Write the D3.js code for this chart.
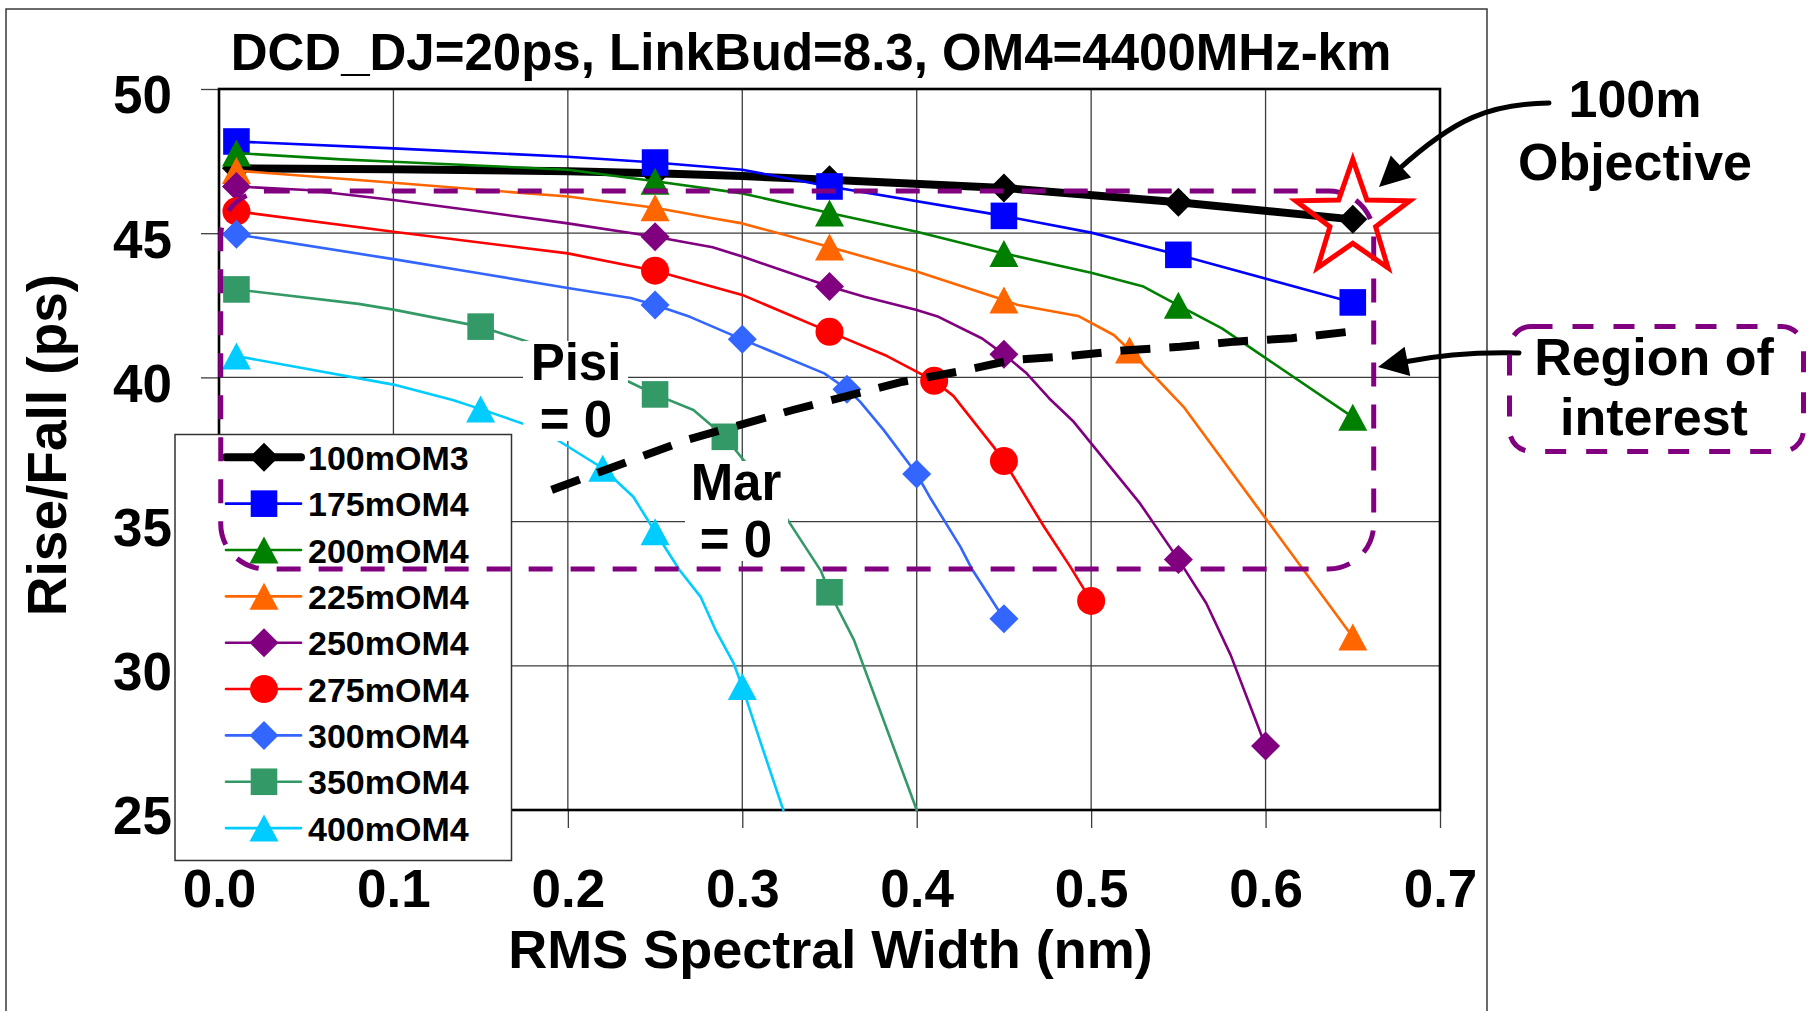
<!DOCTYPE html>
<html>
<head>
<meta charset="utf-8">
<script src="https://cdn.jsdelivr.net/npm/d3@7"></script>
<style>
  html, body { margin: 0; padding: 0; background: #fff; }
  svg { display: block; }
  text { font-family: "Liberation Sans", Arial, Helvetica, sans-serif; font-weight: bold; fill: #000; }
</style>
</head>
<body>
<svg id="chart" width="1812" height="1011"></svg>
<script>
// ---------- text ----------
const titleText = "DCD_DJ=20ps, LinkBud=8.3, OM4=4400MHz-km";
const xTitle = "RMS Spectral Width (nm)";
const yTitle = "Rise/Fall (ps)";

// ---------- axes ----------
const xTicks = [0, 0.1, 0.2, 0.3, 0.4, 0.5, 0.6, 0.7];
const xTickLabels = ["0.0", "0.1", "0.2", "0.3", "0.4", "0.5", "0.6", "0.7"];
const yTicks = [25, 30, 35, 40, 45, 50];
const yTickLabels = ["25", "30", "35", "40", "45", "50"];

// ---------- series (rise/fall time vs RMS spectral width) ----------
const seriesNames = ["100mOM3", "175mOM4", "200mOM4", "225mOM4", "250mOM4",
                     "275mOM4", "300mOM4", "350mOM4", "400mOM4"];

const s100X = [0.01, 0.1, 0.2, 0.25, 0.3, 0.35, 0.45, 0.55, 0.65];
const s100Y = [47.25, 47.22, 47.15, 47.08, 46.98, 46.85, 46.57, 46.07, 45.48];
const s100Marks = [0.01, 0.25, 0.35, 0.45, 0.55, 0.65];

const s175X = [0.01, 0.1, 0.2, 0.25, 0.3, 0.35, 0.45, 0.5, 0.55, 0.65];
const s175Y = [48.18, 47.94, 47.65, 47.45, 47.2, 46.62, 45.6, 45.02, 44.25, 42.6];
const s175Marks = [0.01, 0.25, 0.35, 0.45, 0.55, 0.65];

const s200X = [0.01, 0.07, 0.1, 0.2, 0.25, 0.3, 0.35, 0.4, 0.45, 0.5, 0.53, 0.55, 0.575, 0.65];
const s200Y = [47.78, 47.56, 47.48, 47.2, 46.8, 46.38, 45.7, 45.05, 44.3, 43.63, 43.15, 42.5, 41.7, 38.62];
const s200Marks = [0.01, 0.25, 0.35, 0.45, 0.55, 0.65];

const s225X = [0.01, 0.1, 0.2, 0.25, 0.283, 0.3, 0.35, 0.4, 0.45, 0.458, 0.4925, 0.513, 0.522, 0.553, 0.65];
const s225Y = [47.17, 46.75, 46.27, 45.88, 45.52, 45.34, 44.52, 43.67, 42.68, 42.51, 42.13, 41.47, 40.95, 38.98, 31.0];
const s225Marks = [0.01, 0.25, 0.35, 0.45, 0.522, 0.65];

const s250X = [0.01, 0.05, 0.1, 0.15, 0.2, 0.25, 0.283, 0.3, 0.35, 0.37, 0.4, 0.4125, 0.4375, 0.45,
               0.463, 0.476, 0.49, 0.528, 0.55, 0.566, 0.58, 0.6];
const s250Y = [46.62, 46.5, 46.15, 45.75, 45.34, 44.88, 44.51, 44.19, 43.15, 42.8, 42.34, 42.1, 41.35, 40.8,
               40.14, 39.27, 38.46, 35.63, 33.69, 32.17, 30.37, 27.22];
const s250Marks = [0.01, 0.25, 0.35, 0.45, 0.55, 0.6];

const s275X = [0.01, 0.1, 0.2, 0.25, 0.3, 0.35, 0.383, 0.41, 0.421, 0.444, 0.45, 0.473, 0.488, 0.5];
const s275Y = [45.76, 45.05, 44.3, 43.7, 42.86, 41.58, 40.74, 39.88, 39.36, 37.6, 37.1, 34.82, 33.44, 32.25];
const s275Marks = [0.01, 0.25, 0.35, 0.41, 0.45, 0.5];

const s300X = [0.01, 0.1, 0.15, 0.2, 0.236, 0.25, 0.27, 0.3, 0.347, 0.36, 0.3675, 0.381, 0.4,
               0.408, 0.425, 0.432, 0.45];
const s300Y = [44.96, 44.1, 43.6, 43.1, 42.75, 42.51, 42.1, 41.32, 40.14, 39.59, 39.16, 38.18, 36.65,
               35.8, 34.13, 33.32, 31.63];
const s300Marks = [0.01, 0.25, 0.3, 0.36, 0.4, 0.45];

const s350X = [0.01, 0.08, 0.1, 0.15, 0.18, 0.235, 0.25, 0.272, 0.29, 0.3025, 0.326, 0.345, 0.35, 0.364, 0.4];
const s350Y = [43.05, 42.55, 42.35, 41.76, 41.18, 39.85, 39.41, 38.87, 37.94, 37.0, 35.06, 33.3, 32.55, 30.9, 25.0];
const s350Marks = [0.01, 0.15, 0.25, 0.29, 0.35];

const s400X = [0.01, 0.1, 0.134, 0.15, 0.175, 0.194, 0.22, 0.2375, 0.25, 0.264, 0.276, 0.285, 0.295, 0.3, 0.31, 0.3235];
const s400Y = [40.74, 39.75, 39.22, 38.9, 38.38, 37.83, 36.85, 35.86, 34.65, 33.32, 32.4, 31.2, 30.09, 29.28, 27.43, 25.0];
const s400Marks = [0.01, 0.15, 0.22, 0.25, 0.3];

// Pisi = 0 / Mar = 0 boundary
const boundaryX = [0.1907, 0.268, 0.329, 0.392, 0.4238, 0.4545, 0.4869, 0.518, 0.551, 0.5825, 0.615, 0.6474];
const boundaryY = [36.10, 37.83, 38.87, 39.85, 40.2, 40.6, 40.74, 40.93, 41.06, 41.24, 41.36, 41.58];

// region of interest and the 100 m objective point
const regionX = [0.001, 0.662];
const regionY = [33.36, 46.46];
const objectivePoint = [0.65, 45.48];

// ---------- styles ----------
const seriesX = [s100X, s175X, s200X, s225X, s250X, s275X, s300X, s350X, s400X];
const seriesY = [s100Y, s175Y, s200Y, s225Y, s250Y, s275Y, s300Y, s350Y, s400Y];
const seriesMarks = [s100Marks, s175Marks, s200Marks, s225Marks, s250Marks, s275Marks, s300Marks, s350Marks, s400Marks];
const seriesColor = ["#000000", "#0000FF", "#008000", "#FF6600", "#800080", "#FF0000", "#3366FF", "#339966", "#00CCFF"];
const seriesWidth = [8, 2.6, 2.6, 2.6, 2.6, 2.6, 2.6, 2.6, 2.6];
const seriesShape = ["diamond", "square", "triangle", "triangle", "diamond", "circle", "diamond", "square", "triangle"];

// ---------- chart ----------
const svg = d3.select("#chart");
const x = d3.scaleLinear().domain([0, 0.7]).range([219, 1440]);
const y = d3.scaleLinear().domain([25, 50]).range([810, 89]);
const [x0, x1] = x.range();
const [yb, yt] = y.range();

svg.append("rect").attr("width", 1812).attr("height", 1011).attr("fill", "#fff");

// chart frame
svg.append("rect")
  .attr("x", 6).attr("y", 9).attr("width", 1481).attr("height", 1020)
  .attr("fill", "none").attr("stroke", "#3a3a3a").attr("stroke-width", 1.5);

// title
svg.append("text").attr("x", 811).attr("y", 70).attr("text-anchor", "middle")
  .attr("font-size", 51).text(titleText);

// gridlines
const grid = svg.append("g").attr("stroke", "#3c3c3c").attr("stroke-width", 1.3);
grid.selectAll("line.h").data(yTicks).join("line").attr("class", "h")
  .attr("x1", x0).attr("x2", x1).attr("y1", d => y(d)).attr("y2", d => y(d));
grid.selectAll("line.v").data(xTicks).join("line").attr("class", "v")
  .attr("y1", yt).attr("y2", yb).attr("x1", d => x(d)).attr("x2", d => x(d));

// axes with outside ticks
const xAxis = d3.axisBottom(x).tickValues(xTicks)
  .tickFormat((d, i) => xTickLabels[i]).tickSize(18).tickPadding(41);
const gx = svg.append("g").attr("transform", `translate(0,${yb})`).call(xAxis);
gx.select(".domain").remove();
gx.selectAll(".tick line").attr("stroke", "#3c3c3c").attr("stroke-width", 1.3);
gx.selectAll(".tick text").attr("font-size", 53);

const yAxis = d3.axisLeft(y).tickValues(yTicks)
  .tickFormat((d, i) => yTickLabels[i]).tickSize(18).tickPadding(29);
const gy = svg.append("g").attr("transform", `translate(${x0},0)`).call(yAxis);
gy.select(".domain").remove();
gy.selectAll(".tick line").attr("stroke", "#3c3c3c").attr("stroke-width", 1.3);
gy.selectAll(".tick text").attr("font-size", 53).attr("dy", "0.45em");
[gx, gy].forEach(g => g.attr("font-family", null).attr("font-size", null));

// plot area border
svg.append("rect").attr("x", x0).attr("y", yt).attr("width", x1 - x0).attr("height", yb - yt)
  .attr("fill", "none").attr("stroke", "#000").attr("stroke-width", 2.6);

// axis titles
svg.append("text").attr("x", (x0 + x1) / 2 + 1).attr("y", 968).attr("text-anchor", "middle")
  .attr("font-size", 54).text(xTitle);
svg.append("text").attr("transform", "translate(66,445) rotate(-90)").attr("text-anchor", "middle")
  .attr("font-size", 55).text(yTitle);

// marker shapes
function markerPath(shape) {
  switch (shape) {
    case "diamond":  return "M0,-14.5L14.5,0L0,14.5L-14.5,0Z";
    case "square":   return "M-13.3,-13.3H13.3V13.3H-13.3Z";
    case "triangle": return "M0,-13.5L14.5,13.5L-14.5,13.5Z";
    case "circle":   return "M14,0A14,14 0 1,1 -14,0A14,14 0 1,1 14,0Z";
  }
}

const line = d3.line().x(d => x(d[0])).y(d => y(d[1]));
const plot = svg.append("g");
seriesNames.forEach((name, i) => {
  const pts = seriesX[i].map((v, k) => [v, seriesY[i][k]]);
  const g = plot.append("g").attr("class", "series");
  g.append("path").attr("d", line(pts)).attr("fill", "none")
    .attr("stroke", seriesColor[i]).attr("stroke-width", seriesWidth[i])
    .attr("stroke-linejoin", "round").attr("stroke-linecap", "round");
  const marks = pts.filter(p => seriesMarks[i].includes(p[0]));
  g.selectAll("path.m").data(marks).join("path").attr("class", "m")
    .attr("d", markerPath(seriesShape[i]))
    .attr("transform", d => `translate(${x(d[0])},${y(d[1])})`)
    .attr("fill", seriesColor[i]);
});

// Pisi = 0 / Mar = 0 boundary
svg.append("path")
  .attr("d", line(boundaryX.map((v, k) => [v, boundaryY[k]])))
  .attr("fill", "none").attr("stroke", "#000").attr("stroke-width", 8)
  .attr("stroke-dasharray", "30 19");

// two-line label on a white box
function boxedLabel(bx, by, bw, bh, cx, lines, firstBaseline, lineGap) {
  svg.append("rect").attr("x", bx).attr("y", by).attr("width", bw).attr("height", bh).attr("fill", "#fff");
  lines.forEach((s, k) => svg.append("text").attr("x", cx).attr("y", firstBaseline + k * lineGap)
    .attr("text-anchor", "middle").attr("font-size", 51).text(s));
}
boxedLabel(523, 341, 105, 100, 576, ["Pisi", "= 0"], 380, 57);
boxedLabel(685, 461, 103, 100, 736, ["Mar", "= 0"], 500, 57);

// legend
const legend = svg.append("g");
legend.append("rect").attr("x", 175).attr("y", 434.5).attr("width", 336.5).attr("height", 426)
  .attr("fill", "#fff").attr("stroke", "#333").attr("stroke-width", 1.5);
seriesNames.forEach((name, i) => {
  const cy = 457.3 + i * 46.35;
  legend.append("line").attr("x1", 226).attr("x2", 301).attr("y1", cy).attr("y2", cy)
    .attr("stroke", seriesColor[i]).attr("stroke-width", seriesWidth[i]).attr("stroke-linecap", "round");
  legend.append("path").attr("d", markerPath(seriesShape[i]))
    .attr("transform", `translate(264,${cy})`).attr("fill", seriesColor[i]);
  legend.append("text").attr("x", 308).attr("y", cy + 12.5).attr("font-size", 34).text(name);
});

// region of interest outline
svg.append("rect")
  .attr("x", x(regionX[0])).attr("y", y(regionY[1]))
  .attr("width", x(regionX[1]) - x(regionX[0])).attr("height", y(regionY[0]) - y(regionY[1]))
  .attr("rx", 45).attr("ry", 45)
  .attr("fill", "none").attr("stroke", "#800080").attr("stroke-width", 5)
  .attr("stroke-dasharray", "24 18");

// 100 m objective star
const star = d3.range(10).map(k => {
  const r = k % 2 === 0 ? 60 : 24;
  const a = -Math.PI / 2 + k * Math.PI / 5;
  return [r * Math.cos(a), r * Math.sin(a)];
});
svg.append("path")
  .attr("d", "M" + star.map(p => p.join(",")).join("L") + "Z")
  .attr("transform", `translate(${x(objectivePoint[0])},${y(objectivePoint[1])})`)
  .attr("fill", "none").attr("stroke", "#FF0000").attr("stroke-width", 5)
  .attr("stroke-linejoin", "miter").attr("stroke-miterlimit", 10);

// callout arrows
function arrowHead(tip, from, len, halfW) {
  const dx = tip[0] - from[0], dy = tip[1] - from[1];
  const L = Math.hypot(dx, dy), ux = dx / L, uy = dy / L;
  const bx = tip[0] - ux * len, by = tip[1] - uy * len;
  return [tip, [bx - uy * halfW, by + ux * halfW], [bx + uy * halfW, by - ux * halfW]];
}
function callout(d, tip, from) {
  svg.append("path").attr("d", d).attr("fill", "none").attr("stroke", "#000")
    .attr("stroke-width", 5).attr("stroke-linecap", "round");
  svg.append("path").attr("d", "M" + arrowHead(tip, from, 30, 15).map(p => p.join(",")).join("L") + "Z")
    .attr("fill", "#000");
}
callout("M1549,103 C1490,104 1455,118 1398,170", [1379, 187], [1400, 167.5]);
callout("M1519,353 C1480,352 1445,354 1404,362", [1378, 367], [1405.7, 361.7]);

// callout labels
[["100m", 1635, 117], ["Objective", 1635, 180], ["Region of", 1654, 375], ["interest", 1654, 435]]
  .forEach(([t, cx, by]) => svg.append("text").attr("x", cx).attr("y", by)
    .attr("text-anchor", "middle").attr("font-size", 52).text(t));

svg.append("rect").attr("x", 1509.5).attr("y", 326.5).attr("width", 294).attr("height", 125)
  .attr("rx", 22).attr("ry", 22)
  .attr("fill", "none").attr("stroke", "#800080").attr("stroke-width", 5)
  .attr("stroke-dasharray", "21 20");
</script>
</body>
</html>
